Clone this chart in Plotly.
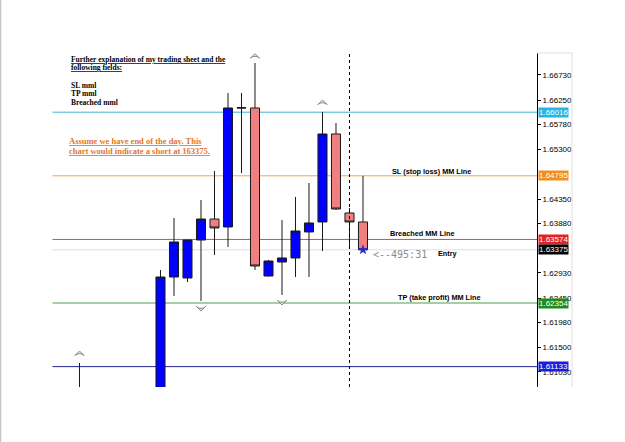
import plotly.graph_objects as go

# ---------------- data ----------------
bar_pos = [0, 6, 7, 8, 9, 10, 11, 12, 13, 14, 15, 16, 17, 18, 19, 20, 21]
opens  = [1.60550, 1.60600, 1.62853, 1.62834, 1.63563, 1.63966, 1.63813, 1.66097, 1.66097,
          1.62872, 1.63141, 1.63218, 1.63717, 1.63909, 1.65598, 1.64082, 1.63909]
highs  = [1.61203, 1.62988, 1.63985, 1.63570, 1.64331, 1.64888, 1.66385, 1.66385, 1.66960,
          1.63180, 1.63947, 1.64389, 1.64657, 1.66020, 1.65809, 1.64177, 1.64795]
lows   = [1.60400, 1.60500, 1.62489, 1.62757, 1.62393, 1.63275, 1.63429, 1.64849, 1.62988,
          1.62860, 1.62508, 1.62853, 1.62853, 1.63352, 1.64140, 1.63429, 1.63375]
closes = [1.60600, 1.62853, 1.63525, 1.63563, 1.63966, 1.63794, 1.66097, 1.66100, 1.63064,
          1.63160, 1.63218, 1.63736, 1.63890, 1.65598, 1.64158, 1.63909, 1.63375]

# fractal arrow tips
fractal_up_pos = [0, 13, 18]
fractal_up_val = [1.61433, 1.67140, 1.66250]
fractal_dn_pos = [9, 15]
fractal_dn_val = [1.62200, 1.62316]

entry_pos = [21]
entry_val = [1.63375]
signal_pos = 20

level_vals   = [1.66016, 1.64795, 1.63574, 1.63375, 1.62354, 1.61133]
level_text   = ["1.66016", "1.64795", "1.63574", "1.63375", "1.62354", "1.61133"]
level_colors = ["#3cb4d4", "#f0a64c", "#e04848", "#dcdcf2", "#4a9e4a", "#22228e"]
label_bg     = ["#2ab4e4", "#f0901e", "#e02424", "#000000", "#1f8a1f", "#1c1ce0"]

tick_vals = [1.66730, 1.66250, 1.65780, 1.65300, 1.64350, 1.63880,
             1.62930, 1.62450, 1.61980, 1.61500, 1.61030]
tick_text = ["1.66730", "1.66250", "1.65780", "1.65300", "1.64350", "1.63880",
             "1.62930", "1.62450", "1.61980", "1.61500", "1.61030"]

y_range = [1.60742, 1.67152]
x_range = [-5.74, 33.89]
line_start = -2

W, H = 625, 442
ML, MR, MT, MB = 2, 88, 53, 55
PW, PH = W - ML - MR, H - MT - MB


def px(x):
    return (x - ML) / PW


def py(y):
    return (H - MB - y) / PH


fig = go.Figure()

fig.add_trace(go.Candlestick(
    x=bar_pos, open=opens, high=highs, low=lows, close=closes,
    increasing=dict(fillcolor="#0000ff", line=dict(color="#1a1a1a", width=1)),
    decreasing=dict(fillcolor="#f08080", line=dict(color="#1a1a1a", width=1)),
    whiskerwidth=0, showlegend=False, hoverinfo="skip"))

fig.add_trace(go.Scatter(
    x=fractal_up_pos, y=fractal_up_val, mode="markers", showlegend=False, hoverinfo="skip",
    cliponaxis=False,
    marker=dict(symbol="arrow-wide", size=6.5, angle=0, color="#e4e4e4",
                line=dict(color="#8a8a8a", width=1))))
fig.add_trace(go.Scatter(
    x=fractal_dn_pos, y=fractal_dn_val, mode="markers", showlegend=False, hoverinfo="skip",
    cliponaxis=False,
    marker=dict(symbol="arrow-wide", size=6.5, angle=180, color="#e4e4e4",
                line=dict(color="#8a8a8a", width=1))))
fig.add_trace(go.Scatter(
    x=entry_pos, y=entry_val, mode="markers", showlegend=False, hoverinfo="skip",
    marker=dict(symbol="star", size=8, color="#2a2ad0", line=dict(width=0))))

shapes = []
for v, c in zip(level_vals, level_colors):
    shapes.append(dict(type="line", xref="x", yref="y", x0=line_start, x1=x_range[1],
                       y0=v, y1=v, line=dict(color=c, width=1), layer="below"))
shapes.append(dict(type="line", xref="x", yref="paper", x0=signal_pos, x1=signal_pos,
                   y0=0, y1=1, line=dict(color="#000000", width=1, dash="dot")))
# frame lines
shapes.append(dict(type="line", xref="paper", yref="paper", x0=px(0.5), x1=px(0.5),
                   y0=py(442), y1=py(0), line=dict(color="#c4c4c4", width=1.5)))
shapes.append(dict(type="line", xref="paper", yref="paper", x0=px(572), x1=px(572),
                   y0=0, y1=1, line=dict(color="#dedede", width=1)))
shapes.append(dict(type="line", xref="paper", yref="paper", x0=px(537), x1=px(572),
                   y0=1, y1=1, line=dict(color="#dedede", width=1)))

ann = []
for v, t, bg in zip(level_vals, level_text, label_bg):
    ann.append(dict(xref="paper", yref="y", x=1, y=v, xshift=1, xanchor="left", yanchor="middle",
                    text=t, showarrow=False, bgcolor=bg, borderpad=0,
                    font=dict(family="Liberation Sans", size=8, color="#ffffff")))

serif = "Liberation Serif"
top_lines = [("<b><u>Further explanation of my trading sheet and the</u></b>", 59),
             ("<b><u>following fields:</u></b>", 68),
             ("<b>SL mml</b>", 85),
             ("<b>TP mml</b>", 93.5),
             ("<b>Breached mml</b>", 102)]
for t, yy in top_lines:
    ann.append(dict(xref="paper", yref="paper", x=px(69), y=py(yy), xanchor="left", yanchor="middle",
                    text=t, showarrow=False, font=dict(family=serif, size=7.5, color="#000000")))

orange_lines = [("<b><u>Assume we have end of the day. This</u></b>", 140.5),
                ("<b><u>chart would indicate a short at 163375.</u></b>", 151)]
for t, yy in orange_lines:
    ann.append(dict(xref="paper", yref="paper", x=px(67), y=py(yy), xanchor="left", yanchor="middle",
                    text=t, showarrow=False, font=dict(family=serif, size=8.5, color="#e0782a")))

sans = "Liberation Sans"
right_labels = [("<b>SL (stop loss) MM Line</b>", 390, 171),
                ("<b>Breached MM Line</b>", 388, 233),
                ("<b>Entry</b>", 436, 253),
                ("<b>TP (take profit) MM Line</b>", 396, 297)]
for t, xx, yy in right_labels:
    ann.append(dict(xref="paper", yref="paper", x=px(xx), y=py(yy), xanchor="left", yanchor="middle",
                    text=t, showarrow=False, font=dict(family=sans, size=7.3, color="#000000")))

ann.append(dict(xref="paper", yref="paper", x=px(371), y=py(254.5), xanchor="left", yanchor="middle",
                text="<--495:31", showarrow=False,
                font=dict(family="DejaVu Sans Mono", size=10, color="#8c8c8c")))

fig.update_layout(
    width=W, height=H,
    margin=dict(l=ML, r=MR, t=MT, b=MB),
    paper_bgcolor="#ffffff", plot_bgcolor="#ffffff",
    boxgap=0.33, boxgroupgap=0,
    shapes=shapes, annotations=ann,
    showlegend=False,
    xaxis=dict(range=x_range, visible=False, rangeslider=dict(visible=False), fixedrange=True),
    yaxis=dict(range=y_range, side="right", showgrid=False, zeroline=False,
               showline=True, linecolor="#000000", linewidth=1,
               ticks="outside", ticklen=3, tickcolor="#000000",
               tickvals=tick_vals, ticktext=tick_text,
               tickfont=dict(family="Liberation Sans", size=8, color="#000000")),
)

fig.write_html("out.html")
